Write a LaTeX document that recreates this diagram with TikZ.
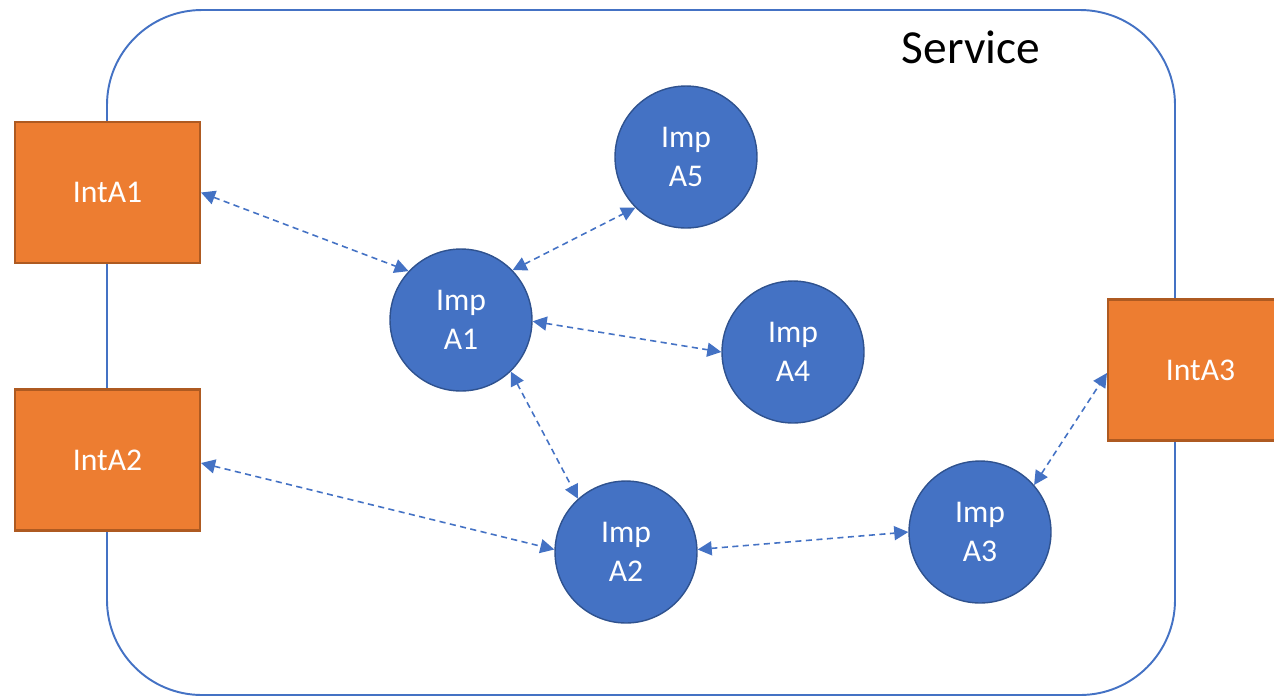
\documentclass[tikz,border=0pt]{standalone}
\usepackage{fontspec}
\setmainfont{Carlito}
\usetikzlibrary{arrows.meta}
\definecolor{ImpBlue}{HTML}{4472C4}
\definecolor{ImpEdge}{HTML}{2F528F}
\definecolor{IntOrange}{HTML}{ED7D31}
\definecolor{IntEdge}{HTML}{AE5A21}

\begin{document}
\begin{tikzpicture}[x=0.02cm,y=-0.02cm,
    imp/.style={circle, draw=ImpEdge, fill=ImpBlue, line width=0.8pt, minimum size=2.84cm, inner sep=0pt,
        text=white, align=center, font=\fontsize{18}{22}\selectfont},
    intf/.style={rectangle, draw=IntEdge, fill=IntOrange, line width=1.2pt, minimum width=3.7cm, minimum height=2.82cm,
        text=white, font=\fontsize{18}{22}\selectfont},
    link/.style={ImpBlue, line width=0.9pt, dash pattern=on 3.5pt off 2.5pt,
        {Triangle[length=8pt,width=8pt]}-{Triangle[length=8pt,width=8pt]}}]

    \useasboundingbox (0,0) rectangle (1274,698);

    % the service boundary
    \draw[ImpBlue, line width=1.1pt, rounded corners=1.9cm] (107,10) rectangle (1175,695);
    \node[anchor=base, font=\fontsize{27}{32}\selectfont] (svc) at (971,63) {Service};

    % interfaces
    \node[intf] (IntA1) at (107.5,192.5) {IntA1};
    \node[intf] (IntA2) at (107.5,460) {IntA2};
    \node[intf] (IntA3) at (1200.5,370) {IntA3};

    % implementations
    \node[imp] (A5) at (686,157) {Imp\\A5};
    \node[imp] (A1) at (461,320) {Imp\\A1};
    \node[imp] (A4) at (793,352) {Imp\\A4};
    \node[imp] (A2) at (626,552) {Imp\\A2};
    \node[imp] (A3) at (980,532) {Imp\\A3};

    \draw[link] (IntA1.east) -- (A1.137);
    \draw[link] (A1.44) -- (A5.225);
    \draw[link] (A1.-1) -- (A4.180);
    \draw[link] (A1.-46) -- (A2.132);
    \draw[link] ([yshift=-3*0.02cm]IntA2.east) -- (A2.178);
    \draw[link] (A2.2) -- (A3.180);
    \draw[link] (A3.41) -- ([yshift=-3*0.02cm]IntA3.west);
\end{tikzpicture}
\end{document}
